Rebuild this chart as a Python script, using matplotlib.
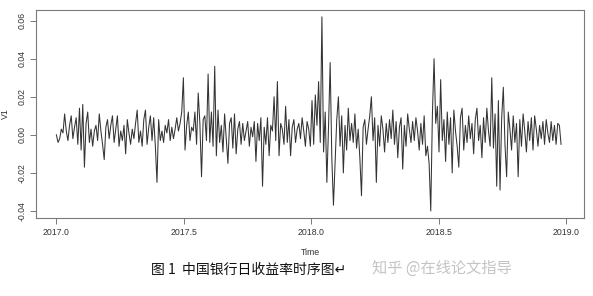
import numpy as np
import matplotlib.pyplot as plt

plt.rcParams['font.family'] = ['Liberation Sans', 'DejaVu Sans']

# daily return of Bank of China (in percent)
returns_pct = [
    0.0, -0.4, -0.2, 0.3, 0.1, 1.1, 0.2, -0.3, 0.5, 1.0, -0.2, 0.4,
    0.9, -0.5, 1.4, -0.8, 1.6, -1.7, 0.6, 1.2, -0.4, 0.3, -0.6, 0.2,
    0.5, -0.3, 1.1, 0.2, -0.5, -1.3, 0.4, 0.8, -0.2, 0.5, 1.0, -0.4,
    0.3, 1.0, -0.6, 0.2, -0.3, 0.5, -1.0, 0.8, 0.1, -0.5, 0.3, -0.2,
    0.6, 1.3, -0.4, 0.2, -0.6, 0.8, 1.3, -0.5, 0.4, 1.0, -0.3, 0.9,
    -0.6, -2.5, 0.8, -0.3, 0.2, -0.4, 0.5, 0.1, 0.8, -0.3, 0.4, -0.2,
    0.3, 0.9, 0.2, 0.6, 1.2, 3.0, -0.8, 0.5, 1.2, -0.3, 0.4, 0.2,
    1.2, -0.5, 2.2, 0.6, -2.2, 0.8, 1.0, -0.3, 3.2, -0.4, 1.2, -0.6,
    3.6, -1.1, 1.3, -0.4, 0.5, -0.9, 1.1, -0.2, -1.5, 0.6, 0.9, -0.7,
    1.1, -1.0, 0.3, 0.7, -0.5, 0.6, -0.3, 0.2, 0.7, -0.6, 0.4, -0.1,
    0.7, -1.4, 0.6, -0.3, 0.9, -2.7, 0.4, -0.5, 0.9, -1.1, 0.5, 0.2,
    2.0, -0.3, 2.8, -1.1, 0.6, 0.3, -0.5, 1.5, -0.4, 0.8, -1.1, 0.4,
    0.8, -0.4, 0.3, 0.6, -0.2, 0.9, 0.2, -0.6, 0.7, 0.3, -0.6, 1.8,
    -0.5, 2.1, 0.5, 2.8, -0.4, 6.2, -0.9, 1.2, -2.5, 0.4, 3.8, -1.2,
    -3.7, -1.5, 0.8, 2.0, -0.6, 1.0, -2.0, 0.5, -0.8, 1.4, -0.3, 0.6,
    -0.4, 1.1, -0.7, 0.3, -1.2, -3.2, 0.4, 0.8, -0.5, 0.3, 1.0, 2.0,
    -0.3, 0.9, -2.5, 0.5, -0.6, 1.0, 0.3, -0.9, 0.6, -0.4, 0.8, -0.2,
    1.3, -0.5, 0.7, -1.2, 0.4, 0.9, -1.8, 0.5, -0.6, 1.1, 0.3, -0.4,
    0.7, -0.3, 0.9, 0.2, -0.8, 0.6, -0.5, 1.0, -1.1, -0.6, -1.5, -4.0,
    1.1, 4.0, 0.6, 1.5, -0.9, 2.9, -0.3, 0.8, -1.4, 1.2, -0.5, 0.9,
    -2.0, 1.3, 0.2, -0.6, -1.7, 0.9, 1.4, -0.8, 0.5, -0.4, 1.0, -0.2,
    0.6, -1.0, 0.8, 1.4, -0.3, 0.5, -1.2, 0.9, -0.4, 1.4, 0.2, -0.6,
    3.0, -0.7, 1.1, -2.7, 1.8, -2.9, 0.9, 2.5, -0.5, -2.2, 1.2, 0.3,
    -0.8, 1.0, -0.4, 0.6, -2.2, 0.8, -0.6, 1.1, 0.2, -0.9, 0.7, -0.3,
    0.9, -0.8, 1.0, 0.3, -0.6, 0.5, -0.2, 0.7, -0.5, 0.8, 0.1, -0.4,
    0.7, -0.3, 0.5, -0.5, 0.6, 0.5, -0.5,
]
start_year = 2017.0
end_year = 2018.98
x_ticks = [2017.0, 2017.5, 2018.0, 2018.5, 2019.0]
y_ticks = [-0.04, -0.02, 0.00, 0.02, 0.04, 0.06]

v1 = np.array(returns_pct) / 100
time = np.linspace(start_year, end_year, len(v1))

fig = plt.figure(figsize=(5.93, 2.96), dpi=100)
ax = fig.add_axes([0.0607, 0.2635, 0.9241, 0.7027])
ax.plot(time, v1, color='#333333', lw=0.75)

ax.set_xlim(2016.92, 2019.07)
ax.set_ylim(-0.0437, 0.0656)
ax.set_xticks(x_ticks)
ax.set_xticklabels([f"{t:.1f}" for t in x_ticks])
ax.set_yticks(y_ticks)
ax.set_yticklabels([f"{t:.2f}" for t in y_ticks], rotation=90, va='center')

for s in ax.spines.values():
    s.set_color('#7a7a7a')
    s.set_linewidth(0.8)
ax.tick_params(colors='#7a7a7a', labelcolor='#333333', labelsize=6.3, length=4, width=0.7, pad=3)

ax.set_xlabel("Time", fontsize=6.3, color='#333333', labelpad=8)
ax.set_ylabel("V1", fontsize=6.3, color='#333333', labelpad=5)

fig.text(0.42, 0.088, "图 1  中国银行日收益率时序图↵", fontsize=10,
         family=['Noto Sans CJK SC', 'DejaVu Sans'], ha='center', va='center', color='#111111')
fig.text(0.745, 0.095, "知乎 @在线论文指导", fontsize=11,
         family=['Noto Sans CJK SC', 'DejaVu Sans'], ha='center', va='center', color='#c4c4c4')

fig.savefig('out.png', dpi=100)
